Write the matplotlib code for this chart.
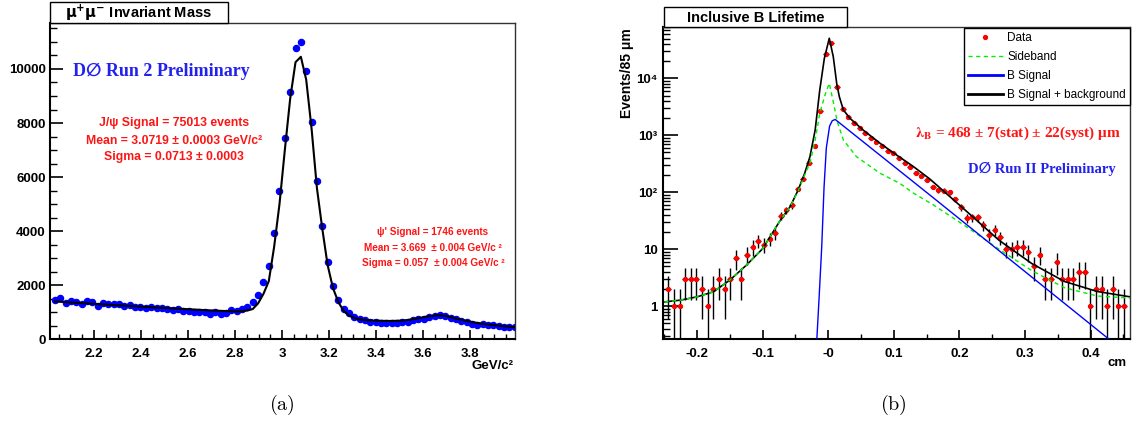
"""
Two panel DZero plot: dimuon invariant mass (a) and inclusive B lifetime (b)
"""

import matplotlib
matplotlib.use('Agg')
import matplotlib.pyplot as plt
import numpy as np
from matplotlib.lines import Line2D
from matplotlib.patches import Rectangle
from matplotlib.ticker import FixedLocator, MultipleLocator, FuncFormatter, NullFormatter

W, H = 1133, 423
SANS = ['Liberation Sans', 'DejaVu Sans']
SERIF = ['Liberation Serif', 'DejaVu Serif', 'DejaVu Sans']

plt.rcParams['font.family'] = SANS
plt.rcParams['font.weight'] = 'bold'

# ---- (a) mu+mu- invariant mass, bins of ~0.0227 GeV/c^2 ----
mass_first, mass_step = 2.034, 0.02273
mass_counts = [1458, 1520, 1358, 1432, 1372, 1310, 1420, 1384, 1236, 1335,
               1298, 1298, 1298, 1236, 1260, 1188, 1188, 1175, 1188, 1175,
               1162, 1114, 1089, 1114, 1064, 1064, 1015, 1015, 1003, 941,
               1003, 941, 966, 1089, 1064, 1114, 1212, 1396, 1642, 2120,
               2700, 3940, 5490, 7430, 9160, 10770, 11010, 9930, 8050, 5850,
               4200, 2860, 1970, 1470, 1137, 966, 818, 744, 720, 658,
               634, 597, 597, 621, 597, 658, 650, 720, 744, 769,
               818, 867, 904, 867, 781, 744, 695, 634, 572, 535,
               560, 535, 523, 474, 449, 437, 460]
mass_fit = [1400, 1388, 1376, 1364, 1352, 1340, 1328, 1316, 1304, 1292,
            1280, 1268, 1257, 1245, 1233, 1222, 1210, 1199, 1188, 1177,
            1166, 1155, 1144, 1133, 1122, 1112, 1101, 1091, 1081, 1071,
            1062, 1053, 1045, 1038, 1033, 1040, 1065, 1120, 1330, 1680,
            2150, 3420, 5000, 7000, 8900, 10250, 10450, 9600, 7800, 5600,
            4100, 2750, 1900, 1380, 1050, 880, 790, 740, 715, 700,
            690, 685, 680, 680, 685, 695, 715, 745, 780, 820,
            855, 880, 890, 870, 820, 770, 725, 680, 640, 605,
            575, 550, 530, 505, 485, 465, 450]
mass_x = mass_first + mass_step * np.arange(len(mass_counts))

# ---- (b) proper decay length, bins of 85 um ----
ct_first, ct_step = -0.244, 0.00858
ct_counts = [2, 1, 1, 3, 3, 3, 2, 1, 2, 3,
             2, 3, 7, 3, 8, 11, 14, 12, 15, 19,
             38, 49, 59, 115, 171, 326, 649, 2640, 26800, 41400,
             7060, 2940, 2070, 1670, 1330, 1085, 907, 753, 649, 536,
             483, 404, 328, 275, 214, 191, 166, 125, 109, 106,
             100, 75, 55, 35, 36, 36, 26, 18, 22, 16,
             10, 10, 11, 11, 9, 5, 8, 3, 3, 6,
             3, 3, 3, 4, 4, 1, 2, 2, 1, 2,
             1, 1]
ct_x = ct_first + ct_step * np.arange(len(ct_counts))

total_x = [-0.25, -0.225, -0.2, -0.175, -0.15, -0.125, -0.1, -0.074, -0.058, -0.046,
           -0.036, -0.028, -0.020, -0.013, -0.006, 0.0015, 0.0076, 0.0128, 0.0168, 0.023,
           0.033, 0.053, 0.079, 0.104, 0.130, 0.155, 0.21, 0.26, 0.31, 0.36,
           0.41, 0.46]
total_y = [1.18, 1.27, 1.45, 1.78, 2.86, 5.2, 10.2, 31, 56, 109,
           215, 420, 1240, 6250, 22500, 50700, 24100, 8200, 4780, 2790,
           1990, 1240, 723, 451, 281, 170, 47, 14.4, 5.6, 2.7,
           1.8, 1.45]

side_x = [-0.25, -0.225, -0.2, -0.175, -0.15, -0.125, -0.1, -0.074, -0.058, -0.046,
          -0.036, -0.028, -0.020, -0.013, -0.005, 0.0015, 0.0076, 0.0137, 0.023, 0.043,
          0.079, 0.109, 0.13, 0.16, 0.21, 0.26, 0.31, 0.36, 0.41, 0.46]
side_y = [1.18, 1.27, 1.45, 1.78, 2.86, 5.2, 10.2, 31, 56, 105,
          200, 322, 827, 2430, 5110, 8200, 3890, 1730, 827, 421,
          215, 143, 96, 60, 25, 10, 4.2, 2.1, 1.5, 1.38]

sig_x = [-0.018, -0.014, -0.010, -0.0065, -0.003, 0.002, 0.006, 0.0105, 0.155, 0.43]
sig_y = [0.2, 1.4, 11, 120, 600, 1450, 1800, 1900, 89, 0.25]


def ftext(px, py, s, **kw):
    """Place text using pixel coordinates of the 1133x423 canvas"""
    return fig.text(px / W, 1 - py / H, s, **kw)


def title_box(x0, y0, x1, y1, label):
    fig.patches.append(Rectangle((x0 / W, 1 - y1 / H), (x1 - x0) / W, (y1 - y0) / H,
                                 transform=fig.transFigure, facecolor='white',
                                 edgecolor='black', lw=1.0))
    ftext((x0 + x1) / 2, (y0 + y1) / 2 + 0.5, label, ha='center', va='center', fontsize=10.5)


def style_frame(ax):
    for side in ['left', 'bottom']:
        ax.spines[side].set_linewidth(1.5)
    for side in ['top', 'right']:
        ax.spines[side].set_linewidth(1.0)
        ax.spines[side].set_color('#333333')


fig = plt.figure(figsize=(W / 100, H / 100), dpi=100)

# ================= (a) =================
ax1 = fig.add_axes([50 / W, 1 - 339.3 / H, 465 / W, (339.3 - 23) / H])
ax1.plot(mass_x, mass_counts, 'o', color='#0000ff', ms=4.4, mec='#0000ff', zorder=2)
ax1.plot(mass_x, mass_fit, color='black', lw=1.5, zorder=3)
ax1.set_xlim(2.013, 3.99)
ax1.set_ylim(0, 11700)
ax1.xaxis.set_major_locator(MultipleLocator(0.2))
ax1.xaxis.set_minor_locator(MultipleLocator(0.05))
ax1.xaxis.set_major_formatter(FuncFormatter(lambda v, p: f'{v:g}'))
ax1.yaxis.set_major_locator(MultipleLocator(2000))
ax1.yaxis.set_minor_locator(MultipleLocator(500))
ax1.tick_params(axis='y', which='major', direction='in', length=9.4, width=1.2, pad=3, labelsize=9.5)
ax1.tick_params(axis='y', which='minor', direction='in', length=5, width=1.0)
ax1.tick_params(axis='x', which='major', direction='in', length=6.5, width=1.2, pad=6, labelsize=9.5)
ax1.tick_params(axis='x', which='minor', direction='in', length=3.4, width=1.0)
style_frame(ax1)

title_box(50, 2, 228, 23, r'$\mathrm{\mu^{+}\mu^{-}}$ Invariant Mass')
ftext(73, 71, 'D\u2205 Run 2 Preliminary', family=SERIF, color='#2222ee',
      fontsize=13, ha='left', va='center')
red = '#ff1414'
ftext(174, 123, 'J/\u03c8 Signal = 75013 events', color=red, fontsize=8.8, ha='center', va='center')
ftext(174, 141, 'Mean = 3.0719 \u00b1 0.0003 GeV/c\u00b2', color=red, fontsize=8.8, ha='center', va='center')
ftext(174, 157, 'Sigma = 0.0713 \u00b1 0.0003', color=red, fontsize=8.8, ha='center', va='center')
ftext(433, 232, "\u03c8' Signal = 1746 events", color=red, fontsize=7.2, ha='center', va='center')
ftext(433, 248, 'Mean = 3.669  \u00b1 0.004 GeV/c \u00b2', color=red, fontsize=7.2, ha='center', va='center')
ftext(433, 263, 'Sigma = 0.057  \u00b1 0.004 GeV/c \u00b2', color=red, fontsize=7.2, ha='center', va='center')
ftext(514, 366, 'GeV/c\u00b2', ha='right', va='center', fontsize=9.5)
ftext(282, 405, r'$(\mathrm{a})$', math_fontfamily='cm', fontsize=14.5, ha='center', va='center')

# ================= (b) =================
ax2 = fig.add_axes([663 / W, 1 - 339.3 / H, 467 / W, (339.3 - 27) / H])
counts = np.array(ct_counts, dtype=float)
err = np.sqrt(counts)
err_lo = np.minimum(err, counts * 0.999)
ax2.errorbar(ct_x, counts, yerr=[err_lo, err], xerr=ct_step / 2, fmt='o', color='red',
             ms=2.8, ecolor='black', elinewidth=1.0, capsize=0, zorder=2)
ax2.plot(total_x, total_y, color='black', lw=1.2, zorder=3)
ax2.plot(side_x, side_y, color='#00ee00', lw=1.0, dashes=(3, 2.5), zorder=4)
ax2.plot(sig_x, sig_y, color='#0000ff', lw=1.0, zorder=4)
ax2.set_yscale('log')
ax2.set_xlim(-0.252, 0.46)
ax2.set_ylim(0.26, 8.0e4)
ax2.yaxis.set_major_locator(FixedLocator([1, 10, 100, 1000, 10000]))
ax2.yaxis.set_major_formatter(FuncFormatter(
    lambda v, p: {1: '1', 10: '10', 100: '10\u00b2', 1000: '10\u00b3', 10000: '10\u2074'}.get(int(round(v)), '')))
minor = [m * 10.0 ** e for e in range(-1, 5) for m in range(2, 10)]
ax2.yaxis.set_minor_locator(FixedLocator(minor))
ax2.yaxis.set_minor_formatter(NullFormatter())
ax2.xaxis.set_major_locator(MultipleLocator(0.1))
ax2.xaxis.set_minor_locator(MultipleLocator(0.05))
ax2.xaxis.set_major_formatter(FuncFormatter(lambda v, p: '-0' if abs(v) < 1e-9 else f'{v:g}'))
ax2.tick_params(axis='y', which='major', direction='in', length=10.8, width=1.2, pad=4, labelsize=9.5)
ax2.tick_params(axis='y', which='minor', direction='in', length=5, width=1.0)
ax2.tick_params(axis='x', which='major', direction='in', length=6.5, width=1.2, pad=6, labelsize=9.5)
ax2.tick_params(axis='x', which='minor', direction='in', length=3.4, width=1.0)
style_frame(ax2)

handles = [Line2D([], [], marker='o', color='red', ls='none', ms=2.8),
           Line2D([], [], color='#00ee00', lw=1.0, dashes=(3, 2.5)),
           Line2D([], [], color='#0000ff', lw=2.0),
           Line2D([], [], color='black', lw=2.0)]
labels = ['Data', 'Sideband', 'B Signal', 'B Signal + background']
leg = ax2.legend(handles, labels, loc='upper right', bbox_to_anchor=(1130 / W, 1 - 27.7 / H),
                 bbox_transform=fig.transFigure, fancybox=False, edgecolor='black',
                 framealpha=1, borderaxespad=0, borderpad=0.35, labelspacing=0.6,
                 handlelength=2.9, handletextpad=0.4,
                 prop=dict(family=SANS, weight='normal', size=8.5))
leg.get_frame().set_linewidth(1.0)

title_box(664, 7, 847, 27, 'Inclusive B Lifetime')
ftext(1121, 133, '$\\mathrm{\\lambda}_{\\mathbf{B}}$ = 468 \u00b1 7(stat) \u00b1 22(syst) \u03bcm',
      family=SERIF, math_fontfamily='stix', color=red, fontsize=11, ha='right', va='center')
ftext(1116, 169, 'D\u2205 Run II Preliminary', family=SERIF, color='#2222ee',
      fontsize=10.5, ha='right', va='center')
ftext(626.7, 28, 'Events/85 \u03bcm', rotation=90, ha='center', va='top', fontsize=10)
ftext(1127, 363, 'cm', ha='right', va='center', fontsize=9.5)
ftext(893, 405, r'$(\mathrm{b})$', math_fontfamily='cm', fontsize=14.5, ha='center', va='center')

plt.savefig('out.png', dpi=100)
plt.close()
